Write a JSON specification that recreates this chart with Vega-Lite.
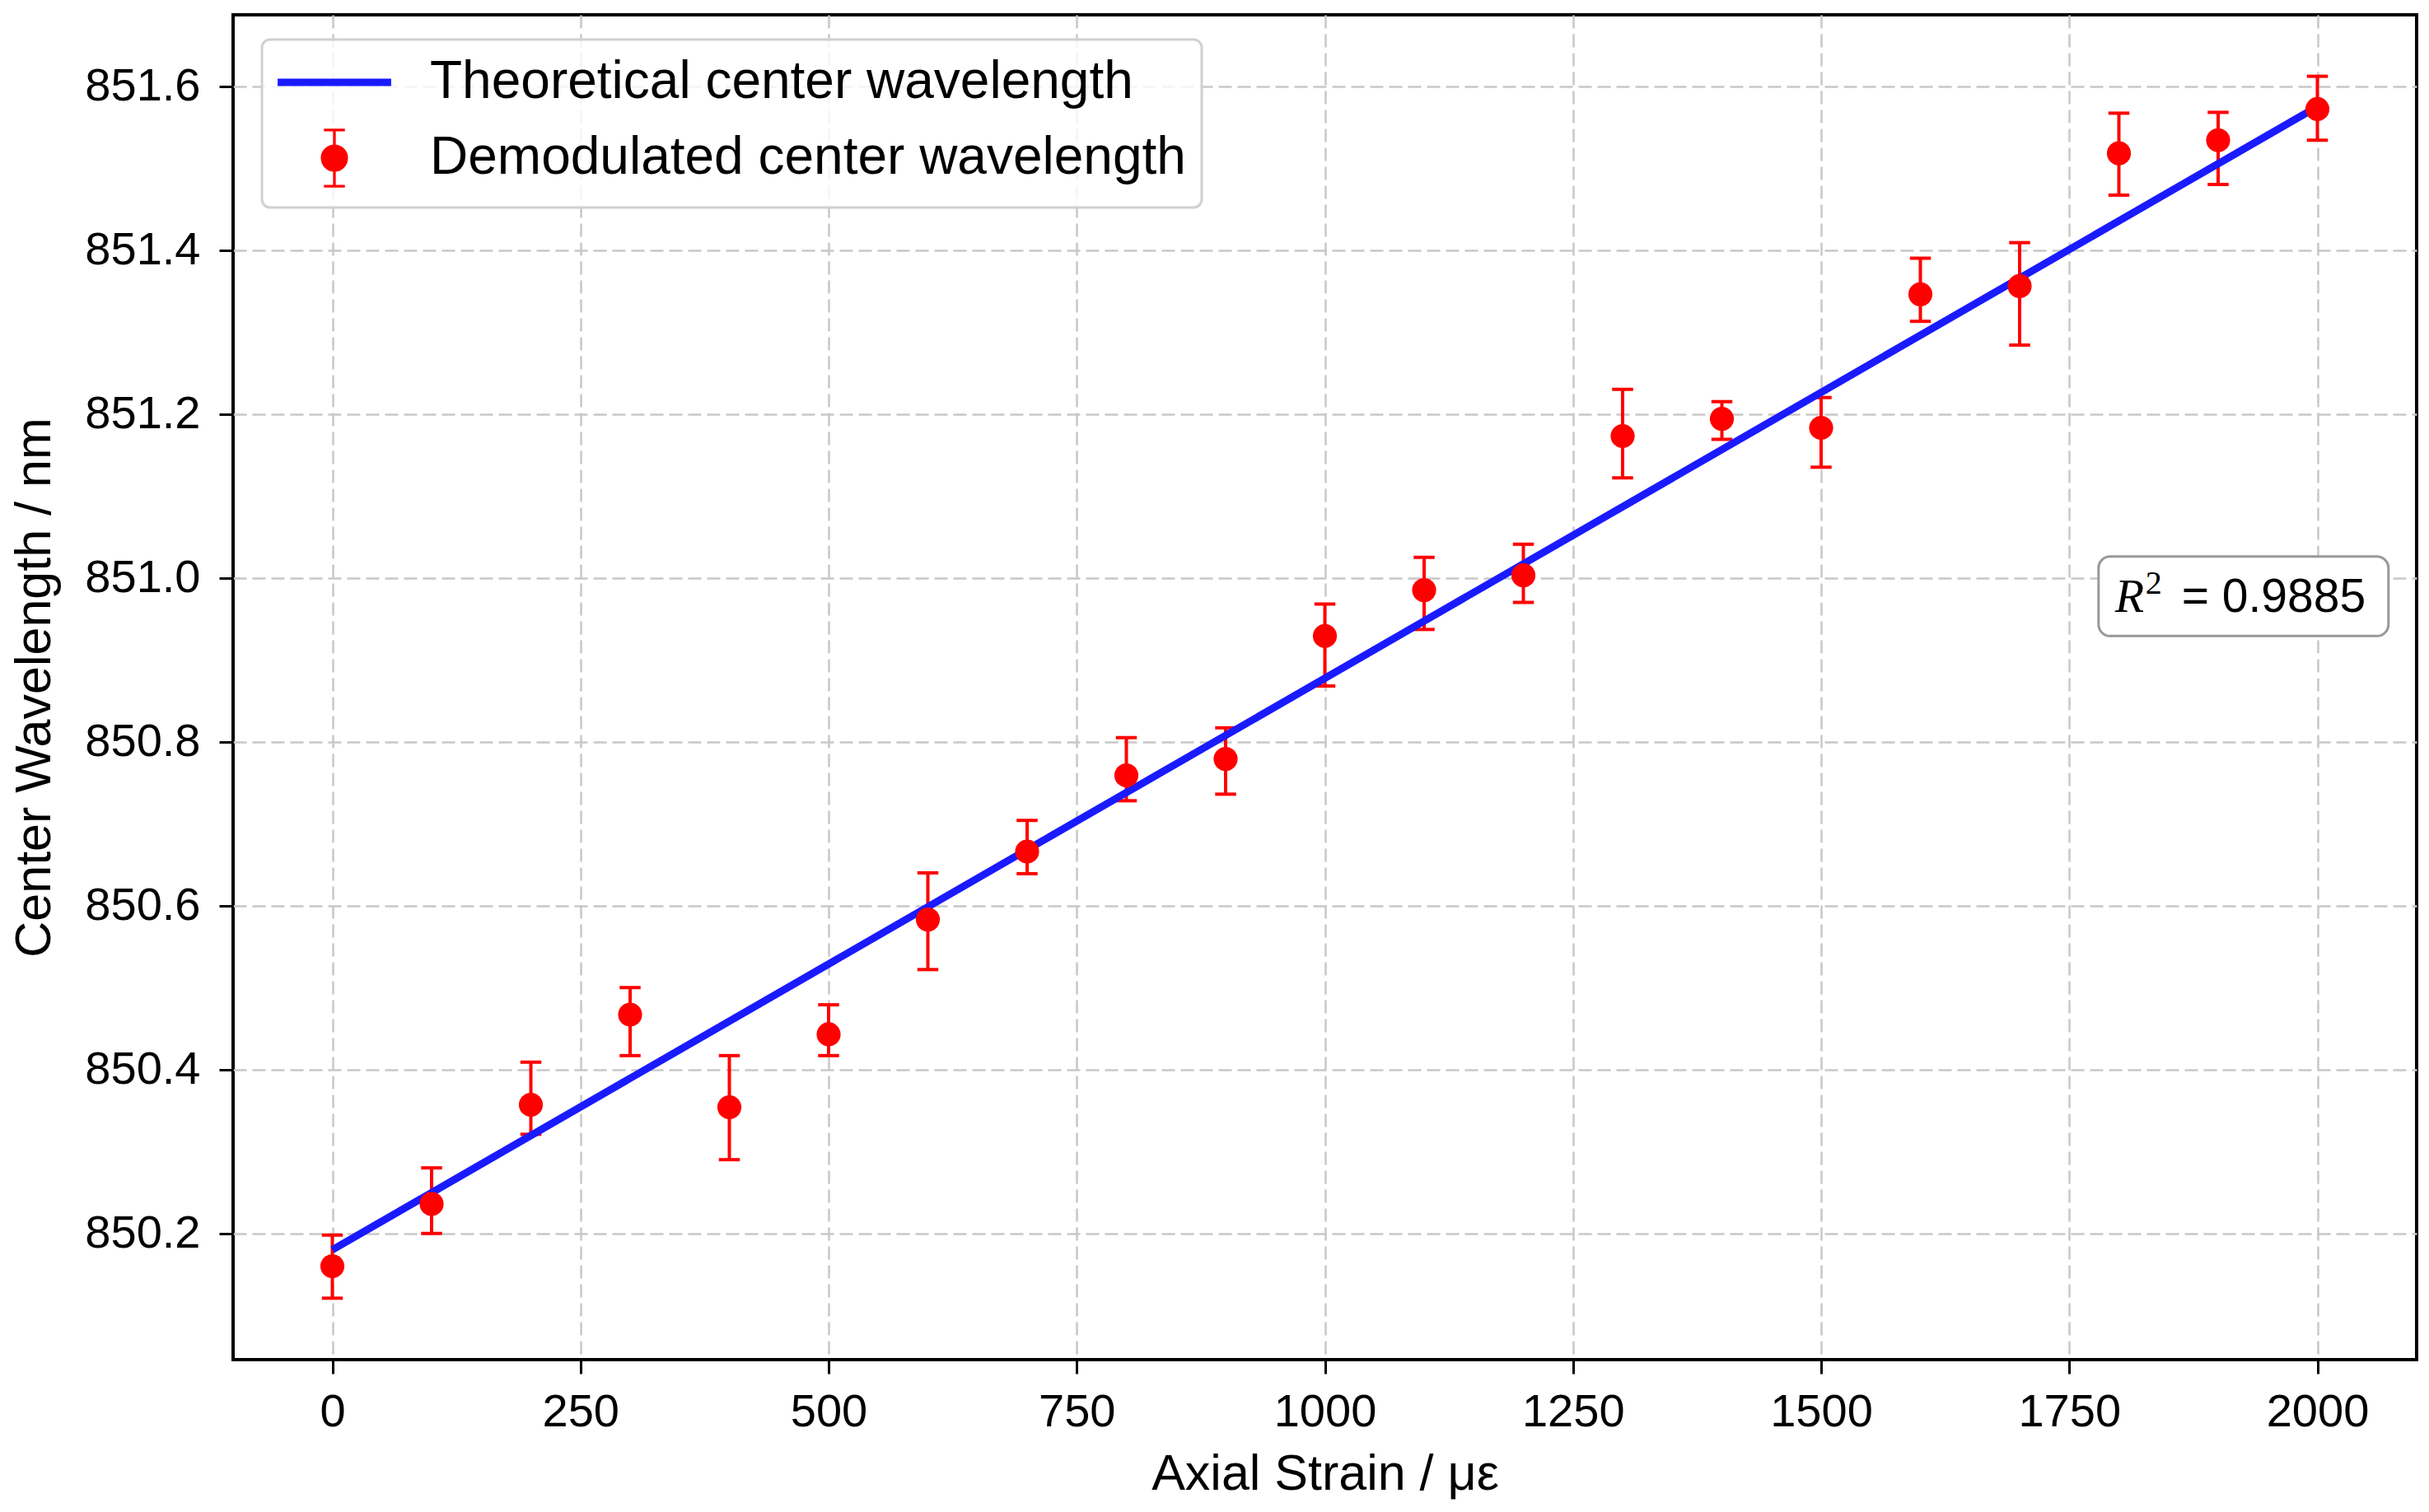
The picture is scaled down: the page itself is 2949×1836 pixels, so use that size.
{
  "$schema": "https://vega.github.io/schema/vega-lite/v6.json",
  "width": 2651,
  "height": 1633,
  "autosize": {"type": "none"},
  "padding": {"left": 283, "top": 18, "right": 15, "bottom": 185},
  "background": "white",
  "datasets": {
    "fit": [
      {"strain": 0, "wavelength": 850.18, "series": "Theoretical center wavelength"},
      {"strain": 2000, "wavelength": 851.575, "series": "Theoretical center wavelength"}
    ],
    "measured": [
      {"strain": 0, "wavelength": 850.160, "lo": 850.121, "hi": 850.198, "series": "Demodulated center wavelength"},
      {"strain": 100, "wavelength": 850.236, "lo": 850.200, "hi": 850.280, "series": "Demodulated center wavelength"},
      {"strain": 200, "wavelength": 850.357, "lo": 850.321, "hi": 850.409, "series": "Demodulated center wavelength"},
      {"strain": 300, "wavelength": 850.467, "lo": 850.417, "hi": 850.500, "series": "Demodulated center wavelength"},
      {"strain": 400, "wavelength": 850.354, "lo": 850.290, "hi": 850.417, "series": "Demodulated center wavelength"},
      {"strain": 500, "wavelength": 850.443, "lo": 850.417, "hi": 850.479, "series": "Demodulated center wavelength"},
      {"strain": 600, "wavelength": 850.583, "lo": 850.522, "hi": 850.640, "series": "Demodulated center wavelength"},
      {"strain": 700, "wavelength": 850.666, "lo": 850.639, "hi": 850.704, "series": "Demodulated center wavelength"},
      {"strain": 800, "wavelength": 850.759, "lo": 850.728, "hi": 850.805, "series": "Demodulated center wavelength"},
      {"strain": 900, "wavelength": 850.779, "lo": 850.736, "hi": 850.817, "series": "Demodulated center wavelength"},
      {"strain": 1000, "wavelength": 850.929, "lo": 850.868, "hi": 850.968, "series": "Demodulated center wavelength"},
      {"strain": 1100, "wavelength": 850.985, "lo": 850.937, "hi": 851.025, "series": "Demodulated center wavelength"},
      {"strain": 1200, "wavelength": 851.003, "lo": 850.970, "hi": 851.041, "series": "Demodulated center wavelength"},
      {"strain": 1300, "wavelength": 851.173, "lo": 851.122, "hi": 851.230, "series": "Demodulated center wavelength"},
      {"strain": 1400, "wavelength": 851.194, "lo": 851.169, "hi": 851.215, "series": "Demodulated center wavelength"},
      {"strain": 1500, "wavelength": 851.183, "lo": 851.135, "hi": 851.220, "series": "Demodulated center wavelength"},
      {"strain": 1600, "wavelength": 851.346, "lo": 851.313, "hi": 851.390, "series": "Demodulated center wavelength"},
      {"strain": 1700, "wavelength": 851.356, "lo": 851.284, "hi": 851.409, "series": "Demodulated center wavelength"},
      {"strain": 1800, "wavelength": 851.518, "lo": 851.467, "hi": 851.567, "series": "Demodulated center wavelength"},
      {"strain": 1900, "wavelength": 851.534, "lo": 851.480, "hi": 851.568, "series": "Demodulated center wavelength"},
      {"strain": 2000, "wavelength": 851.572, "lo": 851.534, "hi": 851.612, "series": "Demodulated center wavelength"}
    ],
    "note": [{"label": "R² = 0.9885"}]
  },
  "layer": [
    {
      "data": {"name": "measured"},
      "mark": {"type": "rule", "color": "#ff0000", "strokeWidth": 4},
      "encoding": {
        "x": {
          "field": "strain",
          "type": "quantitative",
          "scale": {"domain": [-100, 2100], "nice": false, "zero": false},
          "axis": {
            "title": "Axial Strain / με",
            "values": [0, 250, 500, 750, 1000, 1250, 1500, 1750, 2000],
            "format": "d",
            "labelPadding": 19,
            "titleY": 157,
            "titleBaseline": "alphabetic"
          }
        },
        "y": {
          "field": "lo",
          "type": "quantitative",
          "scale": {"domain": [850.046, 851.687], "nice": false, "zero": false},
          "axis": {
            "title": "Center Wavelength / nm",
            "values": [850.2, 850.4, 850.6, 850.8, 851.0, 851.2, 851.4, 851.6],
            "format": ".1f",
            "labelPadding": 23,
            "titleX": -223,
            "titleBaseline": "alphabetic"
          }
        },
        "y2": {"field": "hi"}
      }
    },
    {
      "data": {"name": "measured"},
      "mark": {"type": "point", "shape": "stroke", "size": 650, "filled": false, "stroke": "#ff0000", "strokeWidth": 4, "opacity": 1},
      "encoding": {
        "x": {"field": "strain", "type": "quantitative"},
        "y": {"field": "lo", "type": "quantitative"}
      }
    },
    {
      "data": {"name": "measured"},
      "mark": {"type": "point", "shape": "stroke", "size": 650, "filled": false, "stroke": "#ff0000", "strokeWidth": 4, "opacity": 1},
      "encoding": {
        "x": {"field": "strain", "type": "quantitative"},
        "y": {"field": "hi", "type": "quantitative"}
      }
    },
    {
      "data": {"name": "fit"},
      "mark": {"type": "line", "strokeWidth": 9},
      "encoding": {
        "x": {"field": "strain", "type": "quantitative"},
        "y": {"field": "wavelength", "type": "quantitative"},
        "color": {
          "field": "series",
          "type": "nominal",
          "scale": {
            "domain": ["Theoretical center wavelength", "Demodulated center wavelength"],
            "range": ["#1a1aff", "#ff0000"]
          },
          "legend": {
            "title": null,
            "orient": "none",
            "legendX": 35,
            "legendY": 30,
            "padding": 19,
            "rowPadding": 19,
            "symbolOffset": 36,
            "labelOffset": 83,
            "labelFontSize": 64,
            "labelFont": "Liberation Sans",
            "labelColor": "black",
            "labelLimit": 2000,
            "symbolSize": 3844,
            "symbolStrokeWidth": 3.3,
            "fillColor": "rgba(255,255,255,0.8)",
            "strokeColor": "#d0d0d0",
            "cornerRadius": 10,
            "encode": {
              "legend": {"update": {"strokeWidth": {"value": 3}}},
              "symbols": {
                "update": {
                  "shape": {"signal": "datum.value === 'Theoretical center wavelength' ? 'M-2.17,-0.092H2.17V0.092H-2.17Z' : 'M0,-1.1V1.1M-0.41,-1.1H0.41M-0.41,1.1H0.41M-0.48,0A0.48,0.48,0,1,0,0.48,0A0.48,0.48,0,1,0,-0.48,0Z'"},
                  "fill": {"signal": "datum.value === 'Theoretical center wavelength' ? '#1a1aff' : '#ff0000'"},
                  "stroke": {"signal": "datum.value === 'Theoretical center wavelength' ? '#1a1aff' : '#ff0000'"},
                  "strokeWidth": {"value": 3.3},
                  "size": {"value": 3844},
                  "opacity": {"value": 1},
                  "fillOpacity": {"value": 1},
                  "strokeOpacity": {"value": 1}
                }
              }
            }
          }
        }
      }
    },
    {
      "data": {"name": "measured"},
      "mark": {"type": "circle", "size": 850, "opacity": 1},
      "encoding": {
        "x": {"field": "strain", "type": "quantitative"},
        "y": {"field": "wavelength", "type": "quantitative"},
        "color": {"field": "series", "type": "nominal"}
      }
    },
    {
      "data": {"name": "note"},
      "mark": {"type": "rect", "fill": "white", "stroke": "#999999", "strokeWidth": 3, "cornerRadius": 14},
      "encoding": {
        "x": {"datum": 1779.5, "type": "quantitative"},
        "x2": {"datum": 2071.6},
        "y": {"datum": 851.026, "type": "quantitative"},
        "y2": {"datum": 850.929}
      }
    },
    {
      "data": {"name": "note"},
      "mark": {"type": "text", "font": "Liberation Serif", "fontStyle": "italic", "fontSize": 58, "align": "left", "baseline": "alphabetic", "color": "black"},
      "encoding": {
        "x": {"datum": 1796, "type": "quantitative"},
        "y": {"datum": 850.958, "type": "quantitative"},
        "text": {"value": "R"}
      }
    },
    {
      "data": {"name": "note"},
      "mark": {"type": "text", "font": "Liberation Serif", "fontSize": 40, "align": "left", "baseline": "alphabetic", "dx": 37, "dy": -22, "color": "black"},
      "encoding": {
        "x": {"datum": 1796, "type": "quantitative"},
        "y": {"datum": 850.958, "type": "quantitative"},
        "text": {"value": "2"}
      }
    },
    {
      "data": {"name": "note"},
      "mark": {"type": "text", "font": "Liberation Sans", "fontSize": 57, "align": "left", "baseline": "alphabetic", "dx": 81, "color": "black"},
      "encoding": {
        "x": {"datum": 1796, "type": "quantitative"},
        "y": {"datum": 850.958, "type": "quantitative"},
        "text": {"value": "= 0.9885"}
      }
    }
  ],
  "config": {
    "font": "Liberation Sans",
    "view": {"stroke": "black", "strokeWidth": 4},
    "axis": {
      "domain": false,
      "grid": true,
      "gridColor": "#c8c8c8",
      "gridWidth": 2.5,
      "gridDash": [16, 7],
      "ticks": true,
      "tickColor": "black",
      "tickWidth": 3,
      "tickSize": 17,
      "labelFont": "Liberation Sans",
      "labelFontSize": 56,
      "labelColor": "black",
      "titleFont": "Liberation Sans",
      "titleFontSize": 61,
      "titleFontWeight": "normal",
      "titleColor": "black"
    }
  }
}
